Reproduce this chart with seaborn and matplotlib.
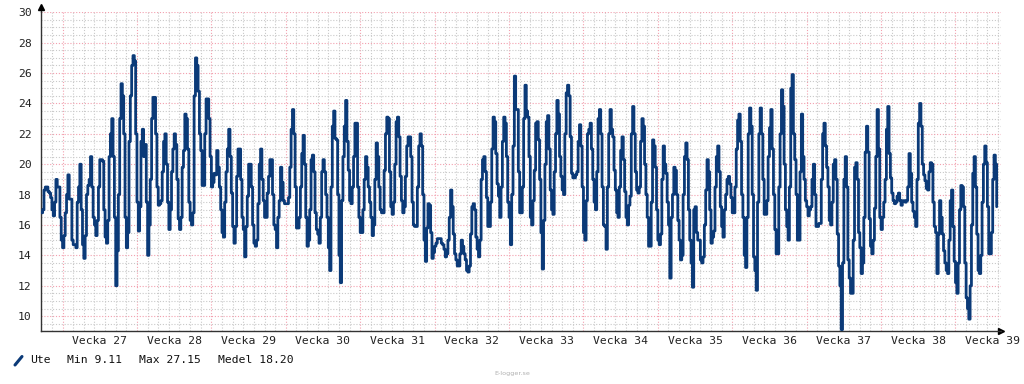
import numpy as np
import pandas as pd
import matplotlib
matplotlib.use("Agg")
import matplotlib.pyplot as plt
import matplotlib.dates as mdates
from matplotlib.ticker import MultipleLocator
from matplotlib.lines import Line2D
import seaborn as sns

# Outdoor temperature ("Ute"), samples every 3 hours starting 2023-07-01 00:00
# one inner list = one day (00,03,06,09,12,15,18,21 h)
week26 = [
    [16.8, 17.0, 18.3, 18.5, 18.5, 18.2, 18.1, 17.8],
    [17.0, 16.6, 17.5, 19.0, 18.5, 18.5, 16.5, 15.0],
]
week27 = [
    [14.5, 15.3, 16.8, 18.0, 19.3, 17.7, 17.7, 15.0],
    [14.7, 14.7, 14.5, 17.5, 18.5, 20.0, 17.0, 14.7],
    [13.8, 15.3, 18.0, 18.6, 19.0, 20.5, 18.5, 16.5],
    [16.0, 15.3, 16.3, 18.5, 20.3, 20.3, 20.2, 17.0],
    [15.2, 14.8, 16.3, 20.5, 22.0, 23.0, 20.5, 16.5],
    [12.0, 14.3, 18.0, 23.0, 25.3, 24.5, 22.0, 16.5],
    [14.5, 15.5, 21.5, 24.5, 26.5, 27.15, 26.8, 22.0],
]
week28 = [
    [17.5, 15.6, 17.2, 21.5, 22.3, 20.5, 21.3, 17.5],
    [14.0, 16.0, 19.0, 23.0, 24.4, 24.4, 22.0, 18.5],
    [17.3, 17.4, 17.6, 19.5, 21.5, 22.0, 20.0, 17.5],
    [15.7, 17.0, 19.5, 21.0, 22.0, 21.3, 19.0, 16.4],
    [15.7, 16.5, 19.8, 20.9, 23.3, 23.0, 21.0, 17.5],
    [16.3, 16.0, 16.8, 24.5, 27.0, 26.5, 24.8, 22.0],
    [20.9, 18.6, 18.6, 22.0, 24.3, 24.3, 23.0, 20.5],
]
week29 = [
    [18.5, 18.8, 19.4, 19.3, 20.9, 19.8, 18.5, 17.0],
    [15.5, 15.2, 17.5, 19.5, 21.0, 22.3, 20.5, 18.1],
    [15.9, 14.8, 15.9, 19.2, 21.0, 21.0, 19.0, 16.5],
    [15.7, 13.9, 15.9, 17.9, 20.0, 20.0, 18.5, 16.0],
    [14.8, 14.6, 15.0, 17.4, 20.0, 21.0, 19.0, 17.6],
    [16.5, 16.5, 18.1, 19.2, 20.3, 20.3, 18.0, 16.0],
    [15.7, 14.5, 16.5, 17.6, 19.8, 18.8, 17.6, 17.4],
]
week30 = [
    [17.4, 17.4, 17.8, 19.8, 22.3, 23.6, 22.0, 18.5],
    [15.8, 15.8, 16.5, 18.5, 20.7, 21.9, 20.0, 16.5],
    [14.6, 15.0, 17.0, 20.3, 20.6, 19.5, 16.8, 15.7],
    [15.4, 14.8, 16.5, 19.5, 20.3, 19.5, 18.0, 16.5],
    [14.5, 13.0, 18.5, 22.5, 23.5, 21.7, 21.6, 18.0],
    [14.0, 12.2, 17.6, 20.5, 22.5, 24.2, 21.5, 19.6],
    [17.6, 17.4, 18.5, 20.5, 22.7, 22.7, 18.5, 16.5],
]
week31 = [
    [15.5, 15.5, 17.0, 19.0, 20.5, 19.8, 18.5, 17.5],
    [16.5, 15.3, 16.0, 19.0, 21.4, 20.5, 18.5, 17.0],
    [16.8, 16.8, 19.6, 22.0, 23.1, 23.0, 19.5, 17.2],
    [16.7, 17.5, 20.0, 22.8, 23.1, 21.8, 19.2, 17.6],
    [16.8, 17.2, 19.2, 21.2, 21.8, 21.8, 20.5, 17.5],
    [16.0, 15.9, 15.9, 18.5, 21.2, 22.0, 21.2, 18.0],
    [15.0, 13.6, 15.8, 17.4, 17.3, 15.5, 13.8, 14.2],
]
week32 = [
    [14.6, 14.8, 15.1, 15.1, 15.1, 14.8, 14.7, 14.4],
    [13.9, 14.1, 15.0, 16.5, 18.3, 17.2, 15.4, 14.1],
    [13.7, 13.3, 13.3, 14.1, 15.0, 14.6, 14.1, 13.7],
    [13.0, 12.9, 13.3, 15.4, 17.2, 17.4, 17.0, 15.2],
    [14.4, 13.9, 15.0, 19.0, 20.3, 20.5, 19.5, 17.8],
    [15.9, 15.9, 17.5, 21.0, 23.1, 22.8, 20.7, 18.7],
    [17.9, 16.5, 18.5, 21.5, 23.1, 22.7, 20.5, 17.5],
]
week33 = [
    [16.5, 14.7, 18.0, 21.2, 25.8, 23.6, 23.6, 19.5],
    [16.8, 16.8, 18.5, 23.0, 25.2, 23.5, 23.1, 20.5],
    [16.5, 16.0, 17.6, 19.6, 22.7, 22.8, 21.6, 19.0],
    [15.5, 13.1, 16.3, 20.0, 22.8, 23.2, 21.0, 18.3],
    [17.0, 16.7, 19.5, 22.0, 24.2, 23.3, 20.5, 19.2],
    [18.3, 18.0, 22.0, 24.7, 25.2, 24.5, 21.8, 19.4],
    [19.1, 19.1, 19.3, 19.5, 21.5, 22.6, 21.2, 18.5],
]
week34 = [
    [15.5, 15.0, 17.6, 22.0, 22.3, 22.7, 21.0, 19.0],
    [17.5, 17.0, 19.5, 23.0, 23.6, 22.0, 18.5, 16.0],
    [15.9, 14.4, 18.5, 22.0, 23.6, 22.3, 21.8, 19.6],
    [18.3, 16.8, 16.5, 18.5, 20.9, 21.8, 20.3, 18.2],
    [16.5, 16.0, 17.3, 17.9, 22.0, 23.8, 22.0, 19.5],
    [18.3, 18.1, 18.5, 21.5, 23.0, 22.5, 20.0, 18.0],
    [16.5, 14.6, 14.6, 17.5, 21.6, 21.2, 19.8, 17.0],
]
week35 = [
    [15.0, 14.7, 15.4, 19.0, 21.2, 20.0, 19.4, 17.5],
    [16.0, 12.5, 16.5, 18.0, 19.8, 19.6, 18.0, 16.3],
    [15.0, 13.7, 14.0, 18.0, 20.5, 21.4, 20.3, 17.0],
    [15.0, 13.5, 11.9, 17.0, 17.2, 15.5, 15.0, 15.0],
    [13.7, 13.5, 13.9, 16.0, 18.3, 20.3, 19.5, 17.0],
    [14.8, 15.2, 15.6, 18.5, 20.5, 21.2, 19.5, 17.2],
    [15.9, 15.2, 17.0, 18.0, 19.0, 19.2, 18.7, 17.8],
]
week36 = [
    [16.8, 16.8, 18.5, 21.0, 22.9, 23.3, 21.5, 18.0],
    [16.5, 14.0, 13.2, 16.5, 22.0, 23.7, 22.5, 18.0],
    [13.9, 13.0, 11.7, 17.5, 22.0, 23.7, 22.0, 19.0],
    [16.7, 16.7, 17.6, 20.5, 22.4, 23.6, 21.0, 18.0],
    [15.7, 14.1, 14.1, 18.5, 22.0, 24.9, 23.8, 20.0],
    [17.0, 15.9, 15.0, 18.5, 25.0, 25.9, 22.0, 20.3],
    [18.0, 15.0, 15.0, 19.5, 23.3, 20.5, 19.0, 17.6],
]
week37 = [
    [17.2, 16.6, 17.0, 17.2, 19.0, 20.0, 18.0, 15.9],
    [15.9, 16.1, 16.1, 19.0, 22.0, 22.7, 21.2, 19.8],
    [18.5, 16.3, 16.0, 17.5, 20.0, 20.3, 19.0, 15.4],
    [13.3, 12.0, 9.11, 13.5, 19.0, 20.5, 18.5, 13.7],
    [12.5, 11.5, 11.5, 15.0, 19.8, 20.1, 19.0, 15.5],
    [14.5, 12.8, 13.5, 16.5, 20.8, 22.5, 20.8, 16.4],
    [14.6, 14.1, 15.0, 17.1, 20.5, 23.6, 21.0, 16.5],
]
week38 = [
    [15.7, 16.5, 17.5, 19.0, 22.3, 23.8, 20.7, 19.1],
    [18.1, 17.6, 17.4, 17.5, 17.9, 18.1, 17.6, 17.3],
    [17.6, 17.6, 17.5, 17.6, 18.5, 20.7, 19.4, 17.5],
    [16.9, 16.5, 15.9, 19.0, 22.7, 24.0, 22.5, 20.0],
    [19.3, 18.9, 18.4, 18.3, 19.5, 20.1, 20.0, 17.5],
    [15.9, 15.5, 12.8, 15.4, 17.6, 16.5, 15.4, 14.3],
    [13.5, 13.0, 12.8, 15.0, 17.6, 18.3, 15.9, 13.6],
]
week39 = [
    [12.2, 11.5, 13.5, 17.0, 18.6, 18.5, 17.2, 13.5],
    [11.2, 10.5, 9.8, 12.0, 16.0, 19.4, 20.5, 18.5],
    [15.4, 13.0, 12.8, 14.0, 17.5, 20.0, 21.2, 20.1],
    [17.2, 14.1, 14.1, 15.5, 19.0, 20.6, 20.0, 17.2],
]

week_numbers = [27, 28, 29, 30, 31, 32, 33, 34, 35, 36, 37, 38, 39]
series_name = "Ute"
stats_labels = ["Min 9.11", "Max 27.15", "Medel 18.20"]
start_time = "2023-07-01 00:00"
year = 2023

weeks = [week26, week27, week28, week29, week30, week31, week32,
         week33, week34, week35, week36, week37, week38, week39]
values = [v for wk in weeks for day in wk for v in day]
times = pd.date_range(start_time, periods=len(values), freq="3h")
df = pd.DataFrame({"time": times, "temp": values})

W, H = 1024, 384
fig = plt.figure(figsize=(W / 100, H / 100), dpi=100)
sns.set_style("white")
plt.rcParams["font.family"] = ["DejaVu Sans Mono"]

ax_left, ax_right, ax_top, ax_bottom = 41.3, 1001.2, 12.3, 331.3
ax = fig.add_axes([ax_left / W, 1 - ax_bottom / H,
                   (ax_right - ax_left) / W, (ax_bottom - ax_top) / H])

navy = "#0b3a78"
sns.lineplot(data=df, x="time", y="temp", ax=ax, color=navy,
             linewidth=2.0, drawstyle="steps-post", zorder=5)

t0 = pd.Timestamp(start_time)
ax.set_xlim(t0, t0 + pd.Timedelta(days=90.3))
ax.set_ylim(9, 30)
ax.set_xlabel("")
ax.set_ylabel("")

ax.xaxis.set_major_locator(mdates.WeekdayLocator(byweekday=mdates.MO))
ax.xaxis.set_minor_locator(mdates.DayLocator())
ax.yaxis.set_major_locator(MultipleLocator(2))
ax.yaxis.set_minor_locator(MultipleLocator(0.5))
ax.set_xticklabels([])
ax.tick_params(axis="both", which="both", length=0)
ax.tick_params(axis="y", which="major", pad=7, labelsize=8.2, labelcolor="#222222")

dot = (0, (1, 1.6))
ax.grid(which="minor", color="#c9c9c9", linestyle=dot, linewidth=0.8)
ax.grid(which="major", color="#f2a0ae", linestyle=dot, linewidth=0.8)
ax.set_axisbelow(True)

for s in ["top", "right"]:
    ax.spines[s].set_visible(False)
for s in ["left", "bottom"]:
    ax.spines[s].set_color("#333333")
    ax.spines[s].set_linewidth(1.0)

# axis arrows
ax.plot([0, 0], [1, 1 + 5 / (ax_bottom - ax_top)], transform=ax.transAxes,
        color="#333333", lw=1.0, clip_on=False)
ax.plot([0], [1 + 5 / (ax_bottom - ax_top)], marker="^", ms=4.5, color="black",
        transform=ax.transAxes, clip_on=False)
ax.plot([1], [0], marker=">", ms=4.5, color="black",
        transform=ax.transAxes, clip_on=False)

# week labels centred on each ISO week
for w in week_numbers:
    monday = pd.Timestamp.fromisocalendar(year, w, 1)
    mid = monday + pd.Timedelta(days=3.5)
    ax.annotate(f"Vecka {w}", xy=(mdates.date2num(mid), 0),
                xycoords=("data", "axes fraction"),
                xytext=(0, -10), textcoords="offset pixels",
                ha="center", va="center", fontsize=8.2, color="#222222",
                annotation_clip=False)

# legend row
ly = 1 - 360 / H
fig.add_artist(Line2D([15 / W, 22 / W], [1 - 365 / H, 1 - 356.5 / H],
                      color=navy, lw=2.2, transform=fig.transFigure))
fig.text(30 / W, ly, series_name, fontsize=8.2, va="center", ha="left", color="#111111")
for xpos, lab in zip([67, 139, 218], stats_labels):
    fig.text(xpos / W, ly, lab, fontsize=8.2, va="center", ha="left", color="#111111")

fig.text(512 / W, 1 - 374 / H, "E-logger.se", fontsize=4.6, ha="center", va="center",
         color="#b0b0b0", family="DejaVu Sans")

fig.savefig("out.png", dpi=100)
